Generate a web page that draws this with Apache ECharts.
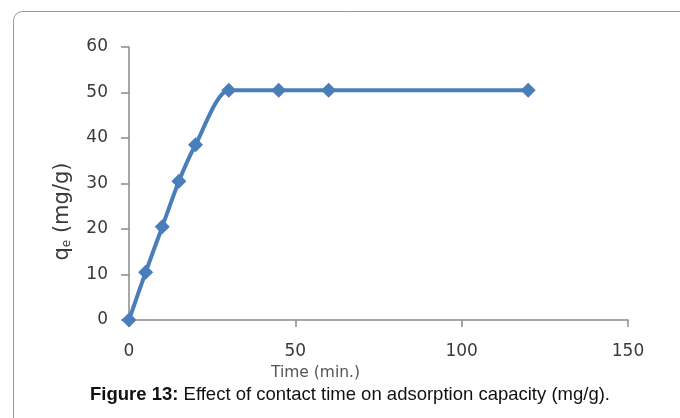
<!DOCTYPE html>
<html>
<head>
<meta charset="utf-8">
<script src="https://cdn.jsdelivr.net/npm/echarts@6/dist/echarts.min.js"></script>
<style>
html,body{margin:0;padding:0;background:#fff;}
#chart{width:680px;height:418px;}
</style>
</head>
<body>
<div id="chart"></div>
<script>
const timeMin = [0, 5, 10, 15, 20, 30, 45, 60, 120];
const qe = [0, 10.5, 20.5, 30.5, 38.5, 50.5, 50.5, 50.5, 50.5];
const xTicks = { min: 0, max: 150, interval: 50 };
const yTicks = { min: 0, max: 60, interval: 10 };
const xName = 'Time (min.)';
const captionBold = 'Figure 13:';
const captionRest = ' Effect of contact time on adsorption capacity (mg/g).';

const chart = echarts.init(document.getElementById('chart'), null, { renderer: 'canvas' });
const labelFont = '"DejaVu Sans", "Open Sans", sans-serif';
chart.setOption({
  animation: false,
  backgroundColor: '#fff',
  grid: { left: 129, right: 52, top: 47, bottom: 98, containLabel: false },
  xAxis: {
    type: 'value', min: xTicks.min, max: xTicks.max, interval: xTicks.interval,
    name: xName, nameLocation: 'middle', nameGap: 35,
    nameTextStyle: { fontFamily: labelFont, fontSize: 15.5, color: '#555', padding: [0, 126, 0, 0] },
    axisLine: { show: true, lineStyle: { color: '#8a8a8a', width: 1.5 } },
    axisTick: { show: true, inside: false, length: 7, lineStyle: { color: '#8a8a8a', width: 1.5 } },
    axisLabel: { margin: 23, fontFamily: labelFont, fontSize: 17, color: '#3a3a3a' },
    splitLine: { show: false }
  },
  yAxis: {
    type: 'value', min: yTicks.min, max: yTicks.max, interval: yTicks.interval,
    name: '{n|q}{sub|e}{n| (mg/g)}', nameLocation: 'middle', nameGap: 56,
    nameTextStyle: {
      fontFamily: labelFont, fontSize: 21, color: '#3a3a3a', padding: [0, 56, 0, 0],
      rich: {
        n: { fontFamily: labelFont, fontSize: 21, color: '#3a3a3a' },
        sub: { fontFamily: labelFont, fontSize: 12, color: '#3a3a3a', verticalAlign: 'bottom', padding: [9, 0, 0, 0] }
      }
    },
    axisLine: { show: true, lineStyle: { color: '#8a8a8a', width: 1.5 } },
    axisTick: { show: true, inside: false, length: 8, lineStyle: { color: '#8a8a8a', width: 1.5 } },
    axisLabel: { margin: 21, fontFamily: labelFont, fontSize: 17, color: '#3a3a3a' },
    splitLine: { show: false }
  },
  series: [{
    type: 'line',
    data: timeMin.map((t, i) => [t, qe[i]]),
    smooth: 0.25,
    symbol: 'diamond',
    symbolSize: 15,
    lineStyle: { color: '#4a7ebb', width: 4 },
    itemStyle: { color: '#4a7ebb' }
  }],
  graphic: [
    {
      type: 'rect', left: 11, top: 9, z: -1,
      shape: { width: 720, height: 460, r: 9 },
      style: { fill: 'none', stroke: '#9a9a9a', lineWidth: 1 }
    },
    {
      type: 'text', x: 350, y: 395,
      style: {
        text: '{b|' + captionBold + '}' + captionRest,
        align: 'center', verticalAlign: 'middle',
        font: '18.5px "Liberation Sans", Arial, sans-serif', fill: '#111',
        rich: { b: { fontWeight: 'bold', fontSize: 18.5, fontFamily: '"Liberation Sans", Arial, sans-serif', fill: '#111' } }
      }
    }
  ]
});
</script>
</body>
</html>
